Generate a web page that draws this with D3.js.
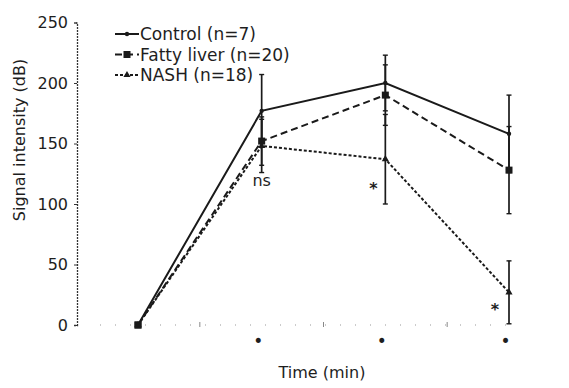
<!DOCTYPE html>
<html><head><meta charset="utf-8">
<script src="https://cdn.jsdelivr.net/npm/d3@7"></script>
<style>
body{margin:0;background:#fff;}
svg{display:block;}
text{font-family:"DejaVu Sans",sans-serif;fill:#1e1e1e;}
</style></head>
<body><svg id="c" width="569" height="388"></svg>
<script>
const timePoints = [0, 1, 2, 3];
const xTickLabels = ["", "•", "•", "•"];
const yTicks = [0, 50, 100, 150, 200, 250];
const seriesNames = ["Control (n=7)", "Fatty liver (n=20)", "NASH (n=18)"];
const controlValues = [0, 177, 200, 158];
const controlErrors = [0, 30, 23, 32];
const fattyValues = [0, 152, 190, 128];
const fattyErrors = [0, 20, 25, 36];
const nashValues = [0, 148, 137, 27];
const nashErrors = [0, 22, 37, 26];
const annotations = [
  {t: 1, v: 115, label: "ns"},
  {t: 2, v: 108, label: "*", dx: -12},
  {t: 3, v: 8, label: "*", dx: -14}
];

const svg = d3.select("#c");
const x = d3.scaleLinear().domain([0, 3]).range([138, 509]);
const y = d3.scaleLinear().domain([0, 250]).range([325, 22.5]);
const ink = "#1a1a1a";

// y axis
const yAx = svg.append("g").attr("transform", "translate(77,0)")
  .call(d3.axisLeft(y).tickValues(yTicks).tickSize(3).tickPadding(6));
yAx.select(".domain").attr("stroke", "#333").attr("stroke-dasharray", "2,1").attr("stroke-width", 1.3);
yAx.selectAll(".tick line").attr("stroke", "#333");
yAx.selectAll("text").attr("font-size", 16).attr("font-family", "DejaVu Sans").attr("fill", ink);

// x axis (faint dotted)
const xAx = svg.append("g").attr("transform", "translate(0,325)")
  .call(d3.axisBottom(x).tickValues(timePoints).tickFormat((d, i) => xTickLabels[i]).tickSize(0).tickPadding(10));
xAx.select(".domain").attr("d", "M100,0H520").attr("stroke", "#bbb").attr("stroke-dasharray", "1,14").attr("stroke-width", 1.5);
xAx.selectAll("text").attr("font-size", 17).attr("dx", -4).attr("fill", ink);
// minor ticks between time points
svg.append("g").selectAll("line").data(timePoints.slice(0, 3)).join("line")
  .attr("x1", d => x(d + 0.5)).attr("x2", d => x(d + 0.5))
  .attr("y1", 322).attr("y2", 327).attr("stroke", "#888").attr("stroke-width", 1);

// axis titles
svg.append("text").attr("transform", "translate(25,140) rotate(-90)")
  .attr("text-anchor", "middle").attr("font-size", 16).text("Signal intensity (dB)");
svg.append("text").attr("x", 322).attr("y", 378)
  .attr("text-anchor", "middle").attr("font-size", 16).text("Time (min)");

const series = [
  {name: seriesNames[0], values: controlValues, errors: controlErrors, dash: null, marker: "circle"},
  {name: seriesNames[1], values: fattyValues, errors: fattyErrors, dash: "7,4", marker: "square"},
  {name: seriesNames[2], values: nashValues, errors: nashErrors, dash: "3,2", marker: "triangle"}
];

const line = d3.line().x((d, i) => x(timePoints[i])).y(d => y(d));

// error bars
series.forEach(s => {
  const g = svg.append("g");
  const idx = timePoints.filter((t, i) => s.errors[i] > 0);
  g.selectAll("line.v").data(idx).join("line")
    .attr("x1", t => x(t)).attr("x2", t => x(t))
    .attr("y1", t => y(s.values[t] - s.errors[t])).attr("y2", t => y(s.values[t] + s.errors[t]))
    .attr("stroke", ink).attr("stroke-width", 1.7);
  [-1, 1].forEach(sg => {
    g.selectAll("line.c" + sg).data(idx).join("line")
      .attr("x1", t => x(t) - 2.5).attr("x2", t => x(t) + 2.5)
      .attr("y1", t => y(s.values[t] + sg * s.errors[t])).attr("y2", t => y(s.values[t] + sg * s.errors[t]))
      .attr("stroke", ink).attr("stroke-width", 1.4);
  });
});

function drawMarker(g, type, cx, cy) {
  if (type === "circle") g.append("circle").attr("cx", cx).attr("cy", cy).attr("r", 2.2).attr("fill", ink);
  else if (type === "square") g.append("rect").attr("x", cx - 3.5).attr("y", cy - 3.5).attr("width", 7).attr("height", 7).attr("fill", ink);
  else g.append("path").attr("d", d3.symbol(d3.symbolTriangle, 22)()).attr("transform", `translate(${cx},${cy})`).attr("fill", ink);
}

// lines
series.forEach(s => {
  svg.append("path").datum(s.values).attr("d", line)
    .attr("fill", "none").attr("stroke", ink).attr("stroke-width", 2)
    .attr("stroke-dasharray", s.dash);
  const g = svg.append("g");
  s.values.forEach((v, i) => drawMarker(g, s.marker, x(timePoints[i]), y(v)));
});
// first point square on top
drawMarker(svg.append("g"), "square", x(0), y(0));

// annotations
svg.append("g").selectAll("text").data(annotations).join("text")
  .attr("x", d => x(d.t) + (d.dx || 0)).attr("y", d => y(d.v))
  .attr("text-anchor", "middle").attr("font-size", 16)
  .attr("font-weight", d => d.label === "*" ? "bold" : "normal")
  .attr("fill", "#000")
  .text(d => d.label);

// legend
const leg = svg.append("g");
series.forEach((s, i) => {
  const ly = 34 + i * 20.5;
  leg.append("line").attr("x1", 115).attr("x2", 139).attr("y1", ly).attr("y2", ly)
    .attr("stroke", ink).attr("stroke-width", 2).attr("stroke-dasharray", s.dash);
  drawMarker(leg, s.marker, 127, ly);
  leg.append("text").attr("x", 140).attr("y", ly + 6).attr("font-size", 17).text(s.name);
});
</script></body></html>
